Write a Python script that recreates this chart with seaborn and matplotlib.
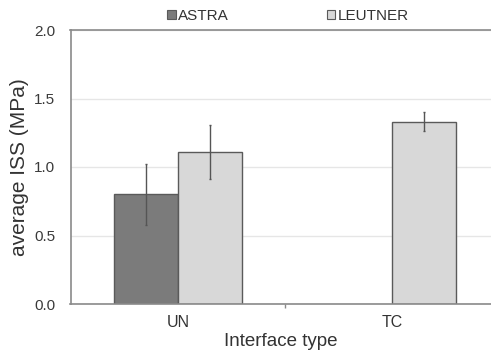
import matplotlib
matplotlib.use("Agg")
import matplotlib.pyplot as plt
import seaborn as sns
import pandas as pd
import numpy as np
from matplotlib.patches import Patch

categories = ["UN", "TC"]
series = ["ASTRA", "LEUTNER"]
astra_vals = [0.80, np.nan]
leutner_vals = [1.11, 1.33]
astra_err = [0.22, np.nan]
leutner_err = [0.20, 0.07]
yticks = [0.0, 0.5, 1.0, 1.5, 2.0]

colors = {"ASTRA": "#7b7b7b", "LEUTNER": "#d8d8d8"}

df = pd.DataFrame({
    "cat": categories * 2,
    "series": ["ASTRA"] * 2 + ["LEUTNER"] * 2,
    "val": astra_vals + leutner_vals,
    "err": astra_err + leutner_err,
})

sns.set_theme(style="white")
plt.rcParams["font.family"] = ["Liberation Sans", "DejaVu Sans"]

fig = plt.figure(figsize=(4.91, 3.51), dpi=100)
ax = fig.add_axes([70.5 / 491, 1 - 304 / 351, (491 - 70.5) / 491, (304 - 30) / 351])

sns.barplot(data=df, x="cat", y="val", hue="series", order=categories,
            hue_order=series, palette=colors, width=0.6, errorbar=None,
            edgecolor="#5a5a5a", linewidth=1.0, ax=ax, legend=False, dodge=True)

# error bars at bar centres
for container, s in zip(ax.containers, series):
    sub = df[df.series == s].set_index("cat").loc[categories]
    for patch, v, e in zip(container.patches, sub["val"], sub["err"]):
        if np.isnan(v):
            continue
        xc = patch.get_x() + patch.get_width() / 2
        ax.errorbar(xc, v, yerr=e, fmt="none", ecolor="#555555",
                    elinewidth=1.0, capsize=0.8, capthick=1.0, zorder=5)

ax.set_xlim(-0.502, 1.463)
ax.set_ylim(0, 2.0)
ax.set_yticks(yticks)
ax.set_yticklabels([f"{t:.1f}" for t in yticks])
ax.yaxis.grid(True, color="#e6e6e6", linewidth=1.0)
ax.set_axisbelow(True)

for side in ["left", "bottom", "top"]:
    ax.spines[side].set_color("#8a8a8a")
    ax.spines[side].set_linewidth(1.2)
ax.spines["right"].set_visible(False)

ax.set_xticks([0.5], minor=True)
ax.tick_params(axis="x", which="minor", length=3, color="#8a8a8a", bottom=True)
ax.tick_params(axis="x", which="major", length=0, pad=8, labelsize=11.5, labelcolor="#333333")
ax.tick_params(axis="y", length=0, pad=11, labelsize=11, labelcolor="#3a3a3a")

ax.set_xlabel("Interface type", fontsize=13.5, color="#333333", labelpad=2)
ax.set_ylabel("average ISS (MPa)", fontsize=15, color="#333333", labelpad=4)

handles = [Patch(facecolor=colors[s], edgecolor="#5a5a5a", linewidth=0.8, label=s) for s in series]
ax.legend(handles=handles, loc="lower center", bbox_to_anchor=(0.517, 1.005), ncol=2,
          frameon=False, handlelength=0.55, handleheight=0.55, handletextpad=0.15,
          columnspacing=6.4, fontsize=11, labelcolor="#333333", borderaxespad=0)

fig.savefig("out.png", dpi=100)
